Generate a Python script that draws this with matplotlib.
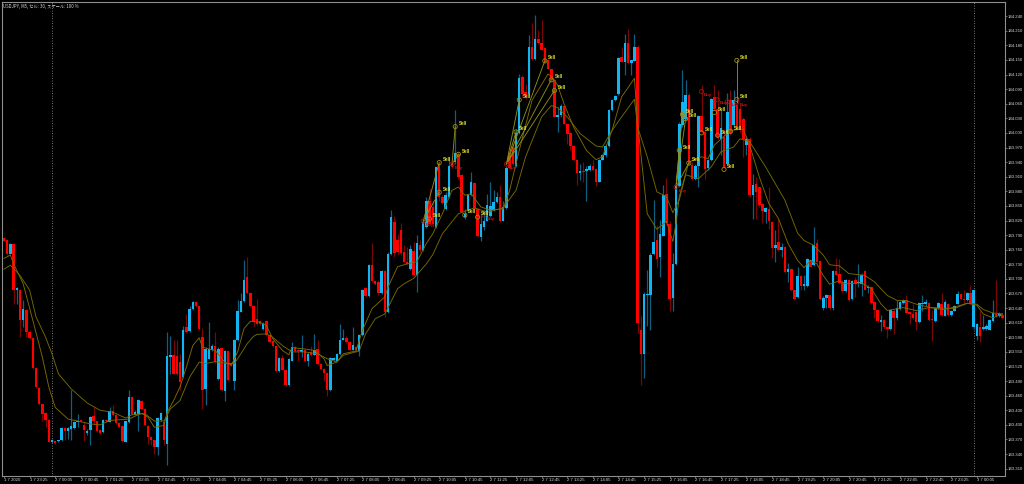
import numpy as np
import matplotlib
matplotlib.use("Agg")
import matplotlib.pyplot as plt

# USDJPY M5 candles, 10 bars per row
opens = [
    143.784, 143.779, 143.752, 143.771, 143.677, 143.678, 143.616, 143.637, 143.591, 143.579,
    143.517, 143.476, 143.442, 143.425, 143.410, 143.364, 143.366, 143.366, 143.368, 143.394,
    143.387, 143.391, 143.394, 143.405, 143.409, 143.400, 143.383, 143.390, 143.419, 143.408,
    143.390, 143.386, 143.409, 143.406, 143.429, 143.421, 143.403, 143.397, 143.365, 143.406,
    143.458, 143.421, 143.423, 143.450, 143.433, 143.397, 143.376, 143.369, 143.354, 143.410,
    143.406, 143.361, 143.539, 143.543, 143.541, 143.529, 143.498, 143.601, 143.592, 143.639,
    143.653, 143.644, 143.580, 143.474, 143.536, 143.553, 143.563, 143.495, 143.559, 143.469,
    143.551, 143.527, 143.491, 143.574, 143.632, 143.654, 143.704, 143.671, 143.645, 143.618,
    143.613, 143.598, 143.613, 143.584, 143.572, 143.562, 143.510, 143.537, 143.513, 143.481,
    143.532, 143.560, 143.553, 143.550, 143.553, 143.532, 143.550, 143.544, 143.555, 143.526,
    143.515, 143.507, 143.471, 143.534, 143.532, 143.545, 143.575, 143.578, 143.570, 143.554,
    143.561, 143.552, 143.584, 143.682, 143.665, 143.728, 143.696, 143.694, 143.670, 143.716,
    143.631, 143.752, 143.817, 143.779, 143.800, 143.755, 143.735, 143.720, 143.757, 143.709,
    143.769, 143.759, 143.807, 143.861, 143.848, 143.807, 143.937, 143.868, 143.844, 143.868,
    143.937, 143.940, 143.957, 143.913, 143.827, 143.839, 143.872, 143.897, 143.844, 143.787,
    143.807, 143.820, 143.830, 143.841, 143.858, 143.868, 143.820, 143.846, 143.954, 143.971,
    143.933, 143.999, 144.114, 144.084, 144.079, 144.177, 144.151, 144.192, 144.185, 144.174,
    144.150, 144.132, 144.108, 144.033, 144.036, 144.056, 144.019, 144.000, 143.974, 143.944,
    143.918, 143.922, 143.922, 143.923, 143.933, 143.925, 143.900, 143.945, 143.954, 143.973,
    144.047, 144.067, 144.079, 144.156, 144.146, 144.184, 144.143, 144.148, 144.177, 143.594,
    143.546, 143.667, 143.667, 143.751, 143.780, 143.745, 143.789, 143.875, 143.813, 143.660,
    143.730, 143.890, 144.016, 144.029, 144.077, 143.934, 143.906, 143.932, 144.034, 144.002,
    143.927, 143.944, 144.074, 144.050, 143.988, 143.992, 143.937, 144.067, 144.016, 144.057,
    144.050, 144.029, 143.975, 143.988, 143.872, 143.895, 143.888, 143.854, 143.838, 143.843,
    143.816, 143.763, 143.775, 143.759, 143.765, 143.715, 143.720, 143.677, 143.663, 143.706,
    143.685, 143.686, 143.739, 143.729, 143.773, 143.737, 143.640, 143.660, 143.666, 143.640,
    143.716, 143.711, 143.694, 143.675, 143.698, 143.658, 143.698, 143.692, 143.690, 143.716,
    143.682, 143.683, 143.653, 143.637, 143.611, 143.616, 143.602, 143.597, 143.635, 143.619,
    143.639, 143.650, 143.657, 143.632, 143.628, 143.632, 143.611, 143.648, 143.648, 143.650,
    143.618, 143.613, 143.640, 143.649, 143.624, 143.648, 143.625, 143.635, 143.649, 143.668,
    143.659, 143.656, 143.672, 143.601, 143.583, 143.601, 143.598, 143.597, 143.596, 143.613,
    143.628, 143.623, 143.626,
]
closes = [
    143.778, 143.751, 143.771, 143.678, 143.682, 143.616, 143.638, 143.591, 143.579, 143.517,
    143.478, 143.442, 143.423, 143.410, 143.365, 143.368, 143.362, 143.368, 143.394, 143.388,
    143.393, 143.397, 143.406, 143.408, 143.408, 143.390, 143.388, 143.417, 143.408, 143.388,
    143.383, 143.411, 143.408, 143.429, 143.421, 143.403, 143.395, 143.366, 143.408, 143.457,
    143.423, 143.426, 143.452, 143.433, 143.400, 143.376, 143.368, 143.355, 143.414, 143.424,
    143.369, 143.541, 143.543, 143.505, 143.504, 143.489, 143.596, 143.591, 143.639, 143.653,
    143.644, 143.598, 143.472, 143.556, 143.556, 143.562, 143.529, 143.556, 143.471, 143.551,
    143.493, 143.524, 143.574, 143.635, 143.654, 143.698, 143.670, 143.644, 143.613, 143.607,
    143.608, 143.608, 143.584, 143.570, 143.562, 143.510, 143.537, 143.513, 143.481, 143.535,
    143.560, 143.552, 143.551, 143.554, 143.531, 143.546, 143.543, 143.554, 143.526, 143.515,
    143.507, 143.472, 143.537, 143.537, 143.545, 143.575, 143.579, 143.570, 143.554, 143.565,
    143.553, 143.585, 143.678, 143.665, 143.728, 143.696, 143.690, 143.670, 143.716, 143.631,
    143.752, 143.827, 143.753, 143.755, 143.753, 143.735, 143.731, 143.761, 143.707, 143.774,
    143.759, 143.817, 143.861, 143.813, 143.813, 143.929, 143.868, 143.855, 143.872, 143.933,
    143.930, 143.959, 143.909, 143.837, 143.834, 143.872, 143.899, 143.844, 143.789, 143.813,
    143.820, 143.851, 143.849, 143.858, 143.868, 143.819, 143.848, 143.927, 143.927, 143.937,
    143.999, 144.112, 144.079, 144.077, 144.177, 144.151, 144.192, 144.184, 144.171, 144.146,
    144.132, 144.108, 144.033, 144.036, 144.056, 144.019, 143.997, 143.974, 143.944, 143.918,
    143.921, 143.920, 143.925, 143.933, 143.923, 143.900, 143.945, 143.955, 143.973, 144.048,
    144.067, 144.076, 144.153, 144.146, 144.184, 144.143, 144.150, 144.177, 143.610, 143.546,
    143.669, 143.669, 143.749, 143.775, 143.741, 143.792, 143.873, 143.814, 143.659, 143.730,
    143.891, 144.019, 144.064, 144.077, 143.937, 143.906, 143.932, 144.034, 144.002, 143.925,
    143.944, 144.069, 144.050, 143.992, 144.011, 143.930, 144.043, 143.999, 144.067, 144.012,
    144.005, 143.988, 143.988, 143.872, 143.892, 143.879, 143.851, 143.840, 143.845, 143.820,
    143.763, 143.770, 143.759, 143.765, 143.715, 143.720, 143.677, 143.658, 143.705, 143.686,
    143.689, 143.740, 143.725, 143.770, 143.735, 143.659, 143.660, 143.666, 143.640, 143.716,
    143.709, 143.692, 143.675, 143.698, 143.657, 143.696, 143.690, 143.694, 143.709, 143.678,
    143.683, 143.650, 143.637, 143.613, 143.615, 143.602, 143.598, 143.637, 143.619, 143.640,
    143.652, 143.657, 143.630, 143.628, 143.620, 143.611, 143.650, 143.650, 143.653, 143.615,
    143.616, 143.640, 143.650, 143.625, 143.653, 143.625, 143.634, 143.644, 143.668, 143.658,
    143.656, 143.672, 143.649, 143.677, 143.607, 143.583, 143.602, 143.604, 143.615, 143.630,
    143.623, 143.628, 143.620,
]
highs = [
    143.784, 143.781, 143.774, 143.773, 143.683, 143.679, 143.657, 143.639, 143.594, 143.580,
    143.519, 143.478, 143.443, 143.427, 143.412, 143.370, 143.367, 143.369, 143.395, 143.395,
    143.395, 143.472, 143.409, 143.423, 143.412, 143.406, 143.392, 143.419, 143.436, 143.409,
    143.392, 143.412, 143.412, 143.436, 143.440, 143.423, 143.406, 143.399, 143.409, 143.471,
    143.460, 143.430, 143.454, 143.452, 143.434, 143.399, 143.378, 143.371, 143.416, 143.426,
    143.409, 143.591, 143.582, 143.574, 143.574, 143.545, 143.604, 143.628, 143.644, 143.654,
    143.655, 143.645, 143.599, 143.560, 143.611, 143.567, 143.591, 143.560, 143.560, 143.553,
    143.553, 143.530, 143.577, 143.656, 143.670, 143.738, 143.745, 143.673, 143.647, 143.659,
    143.616, 143.611, 143.616, 143.586, 143.574, 143.563, 143.539, 143.543, 143.515, 143.537,
    143.570, 143.563, 143.556, 143.584, 143.556, 143.550, 143.563, 143.587, 143.574, 143.527,
    143.516, 143.508, 143.539, 143.539, 143.548, 143.607, 143.598, 143.582, 143.572, 143.601,
    143.563, 143.587, 143.680, 143.683, 143.730, 143.773, 143.697, 143.697, 143.718, 143.718,
    143.755, 143.841, 143.830, 143.793, 143.815, 143.770, 143.765, 143.770, 143.776, 143.790,
    143.780, 143.820, 143.868, 143.885, 143.861, 143.930, 143.940, 143.872, 143.879, 143.951,
    143.951, 144.048, 143.961, 143.916, 143.844, 143.875, 143.920, 143.899, 143.846, 143.834,
    143.841, 143.875, 143.899, 143.882, 143.879, 143.892, 143.861, 143.933, 143.971, 143.978,
    144.009, 144.122, 144.119, 144.100, 144.201, 144.225, 144.242, 144.211, 144.232, 144.177,
    144.151, 144.134, 144.110, 144.053, 144.059, 144.057, 144.021, 144.001, 143.975, 143.945,
    143.937, 143.940, 143.933, 143.937, 143.944, 143.927, 143.947, 143.957, 143.977, 144.050,
    144.069, 144.077, 144.155, 144.177, 144.204, 144.213, 144.150, 144.204, 144.180, 143.623,
    143.674, 143.718, 143.753, 143.862, 143.811, 143.821, 143.893, 143.907, 143.818, 143.753,
    143.914, 144.023, 144.129, 144.108, 144.081, 143.940, 143.937, 144.036, 144.098, 144.005,
    143.947, 144.071, 144.098, 144.088, 144.047, 144.009, 144.081, 144.088, 144.088, 144.071,
    144.057, 144.033, 143.992, 143.992, 143.916, 143.910, 143.889, 143.856, 143.848, 143.889,
    143.818, 143.801, 143.824, 143.773, 143.768, 143.732, 143.722, 143.679, 143.724, 143.707,
    143.708, 143.742, 143.740, 143.807, 143.783, 143.739, 143.664, 143.669, 143.667, 143.718,
    143.742, 143.740, 143.697, 143.700, 143.700, 143.698, 143.704, 143.731, 143.712, 143.719,
    143.687, 143.685, 143.655, 143.639, 143.625, 143.618, 143.604, 143.639, 143.638, 143.656,
    143.655, 143.659, 143.666, 143.635, 143.648, 143.635, 143.653, 143.666, 143.659, 143.653,
    143.637, 143.642, 143.653, 143.672, 143.656, 143.650, 143.637, 143.646, 143.675, 143.670,
    143.677, 143.673, 143.687, 143.678, 143.609, 143.635, 143.625, 143.607, 143.618, 143.656,
    143.698, 143.631, 143.629,
]
lows = [
    143.778, 143.749, 143.751, 143.649, 143.649, 143.580, 143.601, 143.580, 143.577, 143.515,
    143.476, 143.440, 143.409, 143.395, 143.364, 143.363, 143.361, 143.365, 143.366, 143.368,
    143.371, 143.368, 143.392, 143.395, 143.406, 143.366, 143.380, 143.358, 143.402, 143.385,
    143.382, 143.384, 143.406, 143.405, 143.419, 143.402, 143.394, 143.365, 143.364, 143.404,
    143.421, 143.420, 143.388, 143.432, 143.399, 143.361, 143.358, 143.340, 143.339, 143.409,
    143.358, 143.318, 143.505, 143.504, 143.502, 143.471, 143.497, 143.589, 143.590, 143.637,
    143.642, 143.596, 143.433, 143.440, 143.535, 143.552, 143.528, 143.493, 143.469, 143.450,
    143.491, 143.522, 143.471, 143.572, 143.631, 143.652, 143.668, 143.642, 143.604, 143.605,
    143.606, 143.596, 143.583, 143.569, 143.561, 143.508, 143.508, 143.512, 143.480, 143.480,
    143.531, 143.550, 143.532, 143.539, 143.529, 143.522, 143.541, 143.543, 143.524, 143.513,
    143.491, 143.459, 143.469, 143.531, 143.531, 143.543, 143.574, 143.569, 143.553, 143.553,
    143.550, 143.541, 143.583, 143.663, 143.663, 143.694, 143.687, 143.666, 143.668, 143.622,
    143.629, 143.750, 143.745, 143.750, 143.750, 143.733, 143.728, 143.718, 143.705, 143.673,
    143.755, 143.757, 143.805, 143.812, 143.807, 143.805, 143.861, 143.853, 143.841, 143.867,
    143.927, 143.937, 143.906, 143.836, 143.824, 143.837, 143.870, 143.843, 143.787, 143.778,
    143.800, 143.819, 143.827, 143.839, 143.855, 143.817, 143.818, 143.844, 143.923, 143.933,
    143.930, 143.997, 144.074, 144.070, 144.077, 144.150, 144.150, 144.182, 144.170, 144.145,
    144.131, 144.107, 144.032, 144.002, 144.033, 144.018, 143.978, 143.964, 143.942, 143.892,
    143.903, 143.899, 143.861, 143.922, 143.922, 143.890, 143.899, 143.944, 143.951, 143.971,
    144.045, 144.066, 144.077, 144.145, 144.119, 144.141, 144.119, 144.147, 143.589, 143.482,
    143.496, 143.603, 143.594, 143.749, 143.725, 143.703, 143.788, 143.811, 143.635, 143.634,
    143.729, 143.889, 144.012, 144.027, 143.934, 143.903, 143.903, 143.888, 143.999, 143.906,
    143.923, 143.942, 144.047, 143.988, 143.954, 143.927, 143.934, 143.995, 144.012, 144.009,
    144.002, 143.951, 143.954, 143.868, 143.824, 143.824, 143.848, 143.814, 143.814, 143.803,
    143.742, 143.735, 143.758, 143.744, 143.713, 143.694, 143.676, 143.657, 143.660, 143.677,
    143.677, 143.684, 143.724, 143.727, 143.733, 143.657, 143.636, 143.640, 143.636, 143.637,
    143.707, 143.690, 143.673, 143.673, 143.655, 143.656, 143.663, 143.683, 143.664, 143.677,
    143.670, 143.648, 143.620, 143.611, 143.592, 143.598, 143.579, 143.594, 143.587, 143.616,
    143.637, 143.649, 143.628, 143.607, 143.618, 143.596, 143.609, 143.635, 143.644, 143.613,
    143.572, 143.611, 143.638, 143.623, 143.623, 143.623, 143.623, 143.634, 143.648, 143.656,
    143.646, 143.655, 143.648, 143.598, 143.574, 143.570, 143.596, 143.594, 143.594, 143.611,
    143.622, 143.622, 143.618,
]

# the two moving averages at these bars
fast_bars = [0, 2, 3, 6, 9, 12, 14, 16, 20, 23, 27, 30, 33, 39, 43, 45, 47, 50, 51, 53, 55, 57, 59, 61,
             62, 64, 66, 69, 71, 73, 75, 77, 80, 82, 84, 87, 89, 90, 94, 97, 100, 101, 104, 106, 110,
             112, 115, 119, 120, 123, 126, 129, 132, 134, 137, 140, 142, 144, 146, 149, 152, 156, 158,
             161, 165, 170, 171, 173, 175, 178, 182, 185, 187, 190, 193, 197, 198, 200, 201, 204, 207,
             209, 210, 211, 212, 214, 218, 220, 222, 227, 231, 233, 236, 239, 242, 245, 248, 250, 252,
             254, 256, 258, 261, 263, 268, 271, 274, 276, 281, 285, 289, 294, 298, 301, 304, 306, 309, 312]
fast_vals = [143.742, 143.749, 143.731, 143.690, 143.615, 143.539, 143.478, 143.436, 143.412, 143.408,
             143.402, 143.400, 143.409, 143.412, 143.424, 143.416, 143.395, 143.399, 143.426, 143.450,
             143.478, 143.519, 143.563, 143.579, 143.560, 143.556, 143.553, 143.529, 143.522, 143.550,
             143.598, 143.613, 143.611, 143.604, 143.577, 143.553, 143.544, 143.559, 143.556, 143.553,
             143.536, 143.522, 143.529, 143.546, 143.552, 143.594, 143.639, 143.663, 143.683, 143.725,
             143.731, 143.735, 143.773, 143.793, 143.834, 143.882, 143.889, 143.872, 143.875, 143.848,
             143.841, 143.844, 143.882, 143.964, 144.067, 144.121, 144.117, 144.098, 144.060, 144.012,
             143.964, 143.945, 143.951, 144.005, 144.074, 144.112, 144.019, 143.896, 143.834, 143.802,
             143.818, 143.777, 143.814, 143.869, 143.892, 143.940, 143.951, 143.947, 143.975, 144.005,
             144.008, 143.975, 143.910, 143.855, 143.824, 143.773, 143.738, 143.723, 143.738, 143.731,
             143.707, 143.689, 143.696, 143.690, 143.692, 143.680, 143.649, 143.635, 143.641, 143.635,
             143.641, 143.637, 143.644, 143.650, 143.646, 143.628, 143.620, 143.628]
slow_bars = [0, 2, 5, 8, 10, 13, 15, 17, 21, 26, 30, 34, 38, 40, 44, 47, 50, 52, 55, 58, 61, 63, 66, 70,
             72, 74, 76, 78, 79, 82, 84, 87, 90, 94, 98, 101, 104, 106, 111, 113, 116, 119, 123, 125,
             128, 132, 134, 137, 142, 144, 147, 151, 156, 160, 163, 168, 171, 173, 176, 180, 185, 187,
             190, 193, 197, 198, 201, 204, 207, 209, 211, 213, 217, 221, 224, 228, 230, 233, 238, 244,
             248, 250, 253, 256, 258, 261, 264, 269, 272, 276, 279, 282, 286, 290, 297, 301, 304, 306,
             309, 312]
slow_vals = [143.720, 143.728, 143.707, 143.677, 143.622, 143.580, 143.546, 143.505, 143.474, 143.445,
             143.430, 143.426, 143.414, 143.421, 143.423, 143.408, 143.408, 143.433, 143.450, 143.498,
             143.529, 143.526, 143.530, 143.526, 143.526, 143.546, 143.567, 143.582, 143.586, 143.587,
             143.580, 143.563, 143.550, 143.550, 143.546, 143.536, 143.529, 143.543, 143.552, 143.587,
             143.618, 143.628, 143.680, 143.690, 143.701, 143.731, 143.750, 143.793, 143.834, 143.839,
             143.846, 143.837, 143.846, 143.882, 143.951, 144.033, 144.056, 144.052, 144.033, 143.999,
             143.973, 143.971, 144.005, 144.033, 144.069, 144.012, 143.951, 143.879, 143.869, 143.836,
             143.862, 143.914, 143.906, 143.930, 143.961, 143.971, 143.988, 143.982, 143.930, 143.862,
             143.794, 143.779, 143.769, 143.749, 143.729, 143.727, 143.711, 143.707, 143.694, 143.666,
             143.656, 143.655, 143.646, 143.641, 143.639, 143.650, 143.648, 143.637, 143.630, 143.628]

# trade arrows
sell_bars = [136, 141, 142, 136, 133, 144, 148, 161, 160, 169, 171, 172,
             229, 229, 212, 213, 211, 214, 218, 223, 222, 227, 225]
sell_vals = [143.939, 144.013, 143.956, 143.878, 143.823, 143.831, 143.827, 144.068, 144.002, 144.148, 144.109, 144.087,
             144.149, 144.069, 144.038, 144.029, 143.964, 143.938, 144.000, 143.995, 144.042, 144.003, 143.925]
buy_bars = [131, 140, 150, 157, 210, 218, 223, 226, 229]
buy_vals = [143.819, 143.936, 143.831, 143.936, 143.889, 144.085, 144.068, 144.064, 144.064]
# (buy index, sell index)
links = [(3, 7), (3, 8), (3, 9), (3, 10), (3, 11), (0, 4), (0, 3), (0, 0), (1, 1), (1, 2),
         (4, 16), (4, 14), (4, 15), (4, 17), (8, 12), (8, 13)]

tick_labels = ["1 7 2020", "1 7 23:25", "2 7 00:05", "2 7 00:45", "2 7 01:25", "2 7 02:05", "2 7 02:45",
               "2 7 03:25", "2 7 04:05", "2 7 04:45", "2 7 05:25", "2 7 06:05", "2 7 06:45", "2 7 07:25",
               "2 7 08:05", "2 7 08:45", "2 7 09:25", "2 7 10:05", "2 7 10:45", "2 7 11:25", "2 7 12:05",
               "2 7 12:45", "2 7 13:25", "2 7 14:05", "2 7 14:45", "2 7 15:25", "2 7 16:05", "2 7 16:45",
               "2 7 17:25", "2 7 18:05", "2 7 18:45", "2 7 19:25", "2 7 20:05", "2 7 20:45", "2 7 21:25",
               "2 7 22:05", "2 7 22:45", "2 7 23:25", "3 7 00:05"]
day_breaks = [15, 303]

UP = "#12b4f2"
DOWN = "#ff0000"
AXIS = "#8f8f8f"
TEXT = "#d8d8d8"

plt.rcParams["font.family"] = ["Liberation Sans", "DejaVu Sans"]

opens = np.array(opens)
closes = np.array(closes)
highs = np.array(highs)
lows = np.array(lows)
bars = np.arange(len(opens))
up = closes >= opens

fig = plt.figure(figsize=(10.24, 4.84), dpi=100, facecolor="black")
ax = fig.add_axes([2.3 / 1024, 8.5 / 484, 1002.7 / 1024, 473.5 / 484], facecolor="black")

for xb in day_breaks:
    ax.axvline(xb, color="#9a9a9a", lw=0.6, ls=(0, (1, 2)), zorder=1)

ax.vlines(bars[up], lows[up], highs[up], color="#0e5f80", lw=0.9, zorder=2)
ax.vlines(bars[~up], lows[~up], highs[~up], color="#7a0606", lw=0.9, zorder=2)

body_low = np.minimum(opens, closes)
body_h = np.maximum(np.abs(closes - opens), 0.002)
ax.bar(bars[up], body_h[up], bottom=body_low[up], width=0.8, color=UP, lw=0, zorder=3)
ax.bar(bars[~up], body_h[~up], bottom=body_low[~up], width=0.8, color=DOWN, lw=0, zorder=3)

ax.plot(fast_bars, fast_vals, color="#7d6a00", lw=0.65, zorder=4)
ax.plot(slow_bars, slow_vals, color="#746a00", lw=0.65, zorder=4)

for b, s in links:
    ax.plot([buy_bars[b], sell_bars[s]], [buy_vals[b], sell_vals[s]], color="#8e8e14", lw=0.65, zorder=5)

ax.scatter(sell_bars, sell_vals, s=9, facecolors="none", edgecolors="#a08c10", linewidths=0.6, zorder=6)
ax.scatter(buy_bars, buy_vals, s=9, facecolors="none", edgecolors="#a01010", linewidths=0.6, zorder=6)
for xb, yv in zip(sell_bars, sell_vals):
    ax.annotate("Sell", (xb, yv), xytext=(2.3, 2.3), textcoords="offset points", fontsize=3.3,
                fontweight="bold", color="#e6e632", va="center", zorder=7)
for xb, yv in zip(buy_bars, buy_vals):
    ax.annotate("Buy", (xb, yv), xytext=(1.8, -2.6), textcoords="offset points", fontsize=3.2,
                fontweight="bold", color="#c81414", va="center", zorder=7)

ax.set_xlim(-0.53, 312.8)
ax.set_ylim(143.296, 144.269)

ax.set_xticks(bars[::8][:len(tick_labels)])
ax.set_xticklabels(tick_labels, ha="left")
y_ticks = np.arange(143.31, 144.25, 0.03)
ax.set_yticks(y_ticks)
ax.set_yticklabels(["%.3f" % v for v in y_ticks])
ax.yaxis.tick_right()
ax.tick_params(axis="x", length=1.5, width=0.5, color=AXIS, labelcolor=TEXT, labelsize=3.1, pad=0.6)
ax.tick_params(axis="y", length=1.5, width=0.5, color=AXIS, labelcolor=TEXT, labelsize=3.1, pad=0.6)
for side in ax.spines:
    ax.spines[side].set_color(AXIS)
    ax.spines[side].set_linewidth(0.8)

fig.text(3 / 1024, 1 - 6.5 / 484, "USDJPY, M5, セル: 30, スケール: 100 %", fontsize=3.1, color=TEXT, va="center",
         family=["Noto Sans CJK JP", "DejaVu Sans"])

fig.savefig("out.png", dpi=100, facecolor="black")
